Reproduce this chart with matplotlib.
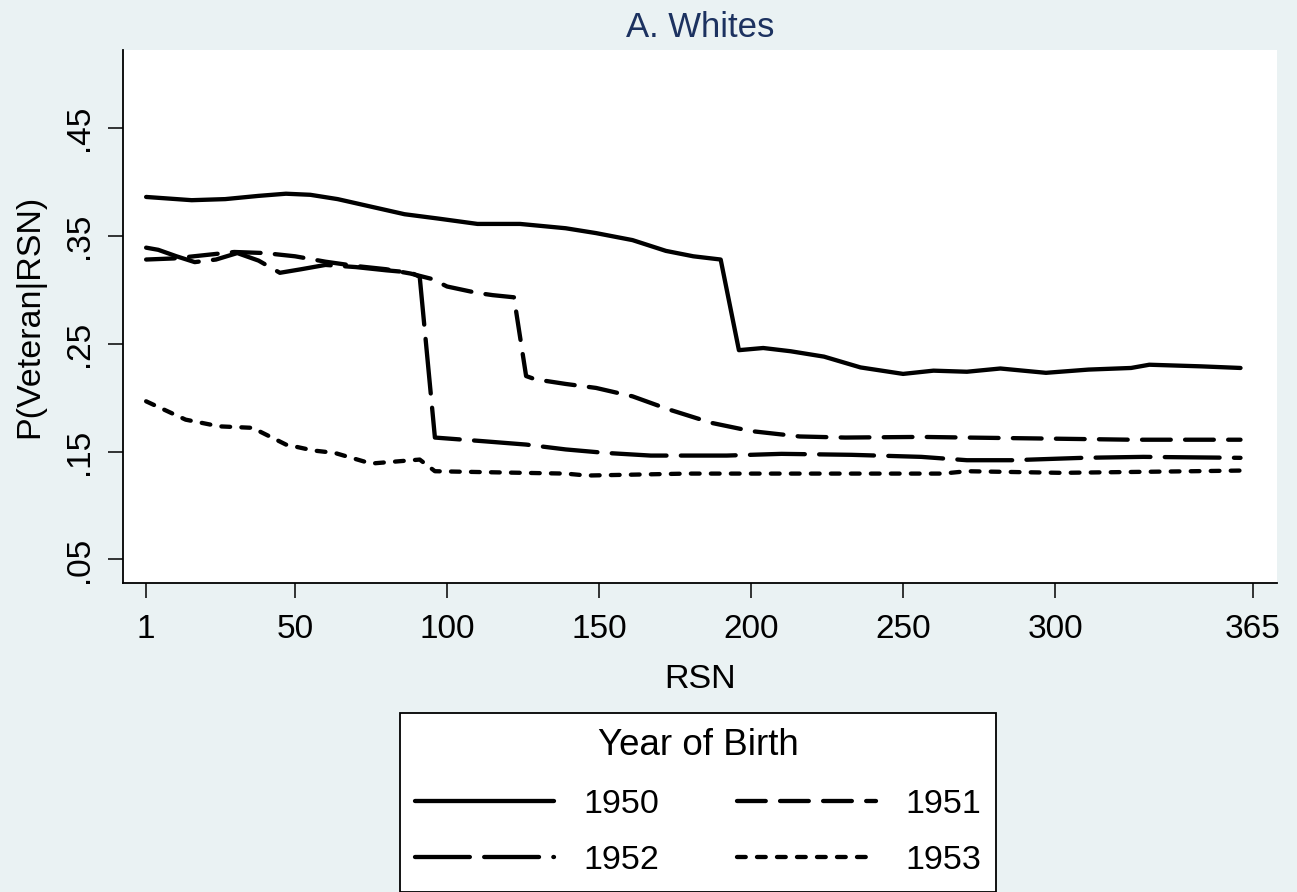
import matplotlib
matplotlib.use("Agg")
import matplotlib.pyplot as plt

# ---------------- data ----------------
rsn_1950 = [1, 16, 27, 38, 47, 55, 64, 75, 86, 97, 110, 124, 139, 149, 161, 172, 181, 190,
            196, 204, 213, 224, 236, 250, 260, 271, 282, 297, 311, 325, 331, 348, 361]
p_1950 = [0.386, 0.383, 0.384, 0.387, 0.389, 0.388, 0.384, 0.377, 0.370, 0.366, 0.361, 0.361,
          0.357, 0.3525, 0.346, 0.336, 0.331, 0.328, 0.244, 0.246, 0.243, 0.238, 0.228, 0.222,
          0.225, 0.224, 0.227, 0.223, 0.226, 0.2275, 0.2305, 0.229, 0.2275]

rsn_1951 = [1, 10, 20, 30, 40, 50, 60, 70, 80, 88, 95, 100, 110, 115, 122, 126, 129, 139, 149,
            161, 173, 187, 200, 216, 231, 256, 271, 299, 325, 361]
p_1951 = [0.328, 0.329, 0.332, 0.335, 0.334, 0.331, 0.326, 0.322, 0.319, 0.315, 0.310, 0.303,
          0.297, 0.295, 0.293, 0.220, 0.217, 0.2127, 0.209, 0.2012, 0.189, 0.1766, 0.169,
          0.164, 0.163, 0.1636, 0.163, 0.162, 0.161, 0.161]

rsn_1952 = [1, 5, 11, 17, 24, 31, 38, 45, 52, 60, 70, 80, 88, 91, 96, 112, 126, 139, 152, 167,
            192, 210, 233, 256, 271, 286, 309, 329, 361]
p_1952 = [0.339, 0.337, 0.331, 0.3256, 0.328, 0.334, 0.327, 0.3157, 0.319, 0.323, 0.321, 0.318,
          0.316, 0.312, 0.163, 0.1596, 0.1565, 0.152, 0.1488, 0.1463, 0.1463, 0.1479, 0.147,
          0.1451, 0.142, 0.142, 0.1442, 0.1451, 0.1442]

rsn_1953 = [1, 14, 25, 36, 47, 56, 63, 75, 91, 96, 113, 139, 146, 179, 263, 271, 302, 345, 361]
p_1953 = [0.1966, 0.1796, 0.1734, 0.172, 0.1565, 0.151, 0.1488, 0.1389, 0.1426, 0.1318, 0.1309,
          0.1296, 0.1278, 0.1296, 0.1296, 0.1318, 0.1303, 0.1318, 0.1324]

x_ticks = [1, 50, 100, 150, 200, 250, 300, 365]
y_ticks = [0.05, 0.15, 0.25, 0.35, 0.45]
y_ticklabels = [".05", ".15", ".25", ".35", ".45"]

# ---------------- style ----------------
plt.rcParams['font.family'] = ['Liberation Sans', 'DejaVu Sans']
plt.rcParams['lines.scale_dashes'] = False

BG = '#EAF2F3'
TITLE_C = '#1c3260'
W, H = 1297, 892
fig = plt.figure(figsize=(W / 100, H / 100), dpi=100, facecolor=BG)
ax = fig.add_axes([123 / W, 1 - 583 / H, (1277 - 123) / W, (583 - 50) / H])
ax.set_facecolor('white')

lw = 3.1
common = dict(color='black', linewidth=lw, solid_capstyle='round',
              dash_capstyle='round', solid_joinstyle='round', dash_joinstyle='round')
l50, = ax.plot(rsn_1950, p_1950, linestyle='-', label='1950', **common)
l51, = ax.plot(rsn_1951, p_1951, linestyle=(0, (20.7, 10.3)), label='1951', **common)
l52, = ax.plot(rsn_1952, p_1952, linestyle=(0, (39.5, 10.3)), label='1952', **common)
l53, = ax.plot(rsn_1953, p_1953, linestyle=(0, (6.3, 8.1)), label='1953', **common)

ax.set_xlim(-6.6, 373)
ax.set_ylim(0.0282, 0.5222)

ax.set_xticks(x_ticks)
ax.set_xticklabels([str(v) for v in x_ticks])
ax.set_yticks(y_ticks)
ax.set_yticklabels(y_ticklabels, rotation=90, va='center')

for s in ['top', 'right']:
    ax.spines[s].set_visible(False)
for s in ['left', 'bottom']:
    ax.spines[s].set_linewidth(1.3)
    ax.spines[s].set_color('black')

ax.tick_params(axis='both', direction='out', length=11, width=1.1, labelsize=24,
               colors='black')
ax.tick_params(axis='x', pad=11)
ax.tick_params(axis='y', pad=9)

ax.set_xlabel('RSN', fontsize=24.5, labelpad=14)
ax.set_ylabel('P(Veteran|RSN)', fontsize=24.5, labelpad=14)
ax.set_title('A. Whites', fontsize=25, color=TITLE_C, pad=9.6)

handles = [l50, l52, l51, l53]
labels = ['1950', '1952', '1951', '1953']
leg = fig.legend(handles, labels, loc='upper left', bbox_to_anchor=(400 / W, 1 - 713 / H),
                 ncol=2, title='Year of Birth', fontsize=24.5, title_fontsize=26.5,
                 frameon=True, fancybox=False, edgecolor='black', facecolor='white',
                 framealpha=1, handlelength=4.08, handletextpad=0.85, columnspacing=2.3,
                 labelspacing=0.75, borderpad=0.45, borderaxespad=0)
leg.get_frame().set_linewidth(1.3)

fig.savefig('out.png', dpi=100, facecolor=BG)
